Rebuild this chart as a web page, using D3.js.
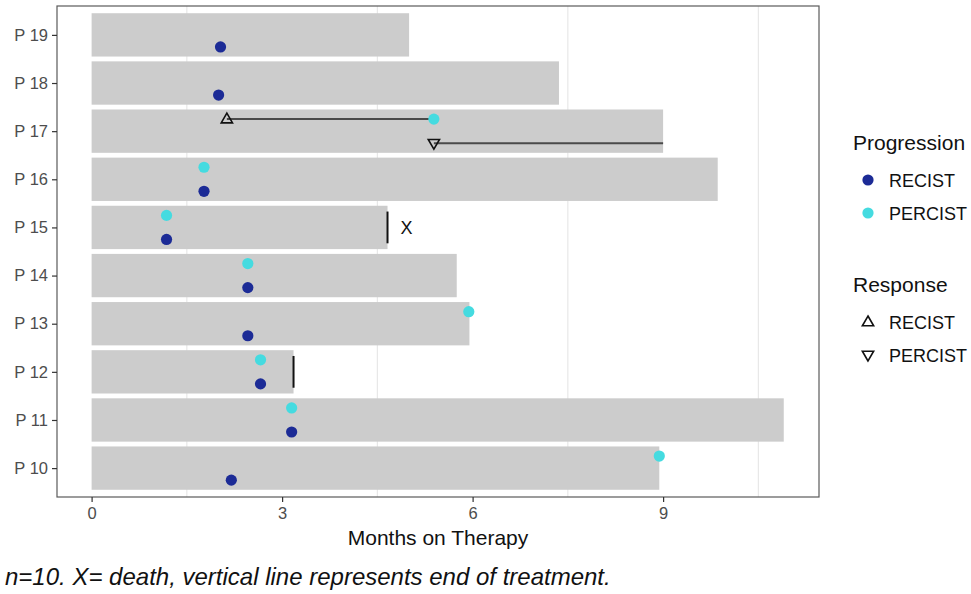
<!DOCTYPE html>
<html>
<head>
<meta charset="utf-8">
<script src="https://cdn.jsdelivr.net/npm/d3@7"></script>
<style>
  html, body { margin: 0; padding: 0; background: #ffffff; }
  svg { display: block; font-family: "Liberation Sans", Arial, Helvetica, sans-serif; }
</style>
</head>
<body>
<svg id="chart" width="971" height="594"></svg>
<script>
// ---------------- data ----------------
const patients = ["P 10", "P 11", "P 12", "P 13", "P 14", "P 15", "P 16", "P 17", "P 18", "P 19"];
const monthsOnTherapy = [8.94, 10.9, 3.18, 5.95, 5.75, 4.66, 9.86, 9.0, 7.36, 5.0];
const progressionRECIST = [2.2, 3.15, 2.66, 2.46, 2.46, 1.18, 1.77, null, 2.0, 2.03];
const progressionPERCIST = [8.94, 3.15, 2.66, 5.94, 2.46, 1.18, 1.77, 5.39, null, null];

const responsePatients = ["P 17", "P 17"];
const responseTypes = ["RECIST", "PERCIST"];
const responseStart = [2.13, 5.39];
const responseEnd = [5.39, 9.0];
const responseLane = ["upper", "lower"];

const endOfTreatmentPatients = ["P 12", "P 15"];
const deathPatients = ["P 15"];

const xTicks = [0, 3, 6, 9];
const xGrid = [1.5, 4.5, 7.5, 10.5];
const progressionTypes = ["RECIST", "PERCIST"];
const progressionColors = ["#1c2b96", "#45dbe0"];
const responseLegend = ["RECIST", "PERCIST"];

const xTitle = "Months on Therapy";
const caption = "n=10. X= death, vertical line represents end of treatment.";

// ---------------- layout ----------------
const panel = { left: 57, right: 819, top: 6, bottom: 497 };
const svg = d3.select("#chart");

const x = d3.scaleLinear().domain([-0.545, 11.455]).range([panel.left, panel.right]);
const y = d3.scalePoint().domain(patients.slice().reverse()).range([panel.top, panel.bottom]).padding(0.6);
const step = y.step();
const laneOffset = { upper: -0.25 * step, lower: 0.25 * step };
const color = d3.scaleOrdinal().domain(progressionTypes).range(progressionColors);

const treatment = patients.map((p, i) => ({ p, months: monthsOnTherapy[i] }));

// panel background
svg.append("rect").attr("x", panel.left).attr("y", panel.top)
  .attr("width", panel.right - panel.left).attr("height", panel.bottom - panel.top)
  .attr("fill", "#ffffff");

// grid lines
svg.append("g").selectAll("line").data(xGrid).join("line")
  .attr("x1", d => x(d)).attr("x2", d => x(d))
  .attr("y1", panel.top).attr("y2", panel.bottom)
  .attr("stroke", "#e6e6e6").attr("stroke-width", 1.1);

// bars
svg.append("g").selectAll("rect").data(treatment).join("rect")
  .attr("x", x(0))
  .attr("y", d => y(d.p) - 0.45 * step)
  .attr("width", d => x(d.months) - x(0))
  .attr("height", 0.9 * step)
  .attr("fill", "#cccccc");

// response lines
const responses = responsePatients.map((p, i) => ({
  p, type: responseTypes[i], start: responseStart[i], end: responseEnd[i], lane: responseLane[i]
}));
svg.append("g").selectAll("line").data(responses).join("line")
  .attr("x1", d => x(d.start)).attr("x2", d => x(d.end))
  .attr("y1", d => y(d.p) + laneOffset[d.lane]).attr("y2", d => y(d.p) + laneOffset[d.lane])
  .attr("stroke", "#4a4a4a").attr("stroke-width", 2);

// end of treatment lines
svg.append("g").selectAll("line").data(endOfTreatmentPatients).join("line")
  .attr("x1", p => x(monthsOnTherapy[patients.indexOf(p)]))
  .attr("x2", p => x(monthsOnTherapy[patients.indexOf(p)]))
  .attr("y1", p => y(p) - 0.33 * step).attr("y2", p => y(p) + 0.33 * step)
  .attr("stroke", "#111111").attr("stroke-width", 2);

// death markers
svg.append("g").selectAll("text").data(deathPatients).join("text")
  .attr("x", p => x(monthsOnTherapy[patients.indexOf(p)]) + 19)
  .attr("y", p => y(p) + 6.5)
  .attr("text-anchor", "middle")
  .attr("font-size", 18).attr("fill", "#111111")
  .text("X");

// progression points
const points = [];
patients.forEach((p, i) => {
  if (progressionRECIST[i] != null) points.push({ p, type: "RECIST", v: progressionRECIST[i], lane: "lower" });
  if (progressionPERCIST[i] != null) points.push({ p, type: "PERCIST", v: progressionPERCIST[i], lane: "upper" });
});
svg.append("g").selectAll("circle").data(points).join("circle")
  .attr("cx", d => x(d.v)).attr("cy", d => y(d.p) + laneOffset[d.lane])
  .attr("r", 5.6)
  .attr("fill", d => color(d.type));

// response markers (triangles)
const triUp = d3.symbol().type(d3.symbolTriangle).size(55);
svg.append("g").selectAll("path").data(responses).join("path")
  .attr("d", triUp())
  .attr("transform", d => `translate(${x(d.start)},${y(d.p) + laneOffset[d.lane] + (d.type === "RECIST" ? 0.5 : -0.5)}) rotate(${d.type === "RECIST" ? 0 : 180})`)
  .attr("fill", "none").attr("stroke", "#111111").attr("stroke-width", 1.6);

// panel border
svg.append("rect").attr("x", panel.left).attr("y", panel.top)
  .attr("width", panel.right - panel.left).attr("height", panel.bottom - panel.top)
  .attr("fill", "none").attr("stroke", "#5a5a5a").attr("stroke-width", 1.2);

// x axis
const xAxis = d3.axisBottom(x).tickValues(xTicks).tickSize(5).tickPadding(5).tickFormat(d3.format("d"));
const gx = svg.append("g").attr("transform", `translate(0,${panel.bottom})`).call(xAxis)
  .attr("font-size", 16.5).attr("font-family", "'Liberation Sans', Arial, sans-serif");
gx.select(".domain").remove();
gx.selectAll(".tick line").attr("stroke", "#333333").attr("stroke-width", 1.2);
gx.selectAll(".tick text").attr("fill", "#4d4d4d");

// y axis
const yAxis = d3.axisLeft(y).tickSize(5).tickPadding(4);
const gy = svg.append("g").attr("transform", `translate(${panel.left},0)`).call(yAxis)
  .attr("font-size", 16.5).attr("font-family", "'Liberation Sans', Arial, sans-serif");
gy.select(".domain").remove();
gy.selectAll(".tick line").attr("stroke", "#333333").attr("stroke-width", 1.2);
gy.selectAll(".tick text").attr("fill", "#4d4d4d");

// x title
svg.append("text").attr("x", (panel.left + panel.right) / 2).attr("y", 545)
  .attr("text-anchor", "middle").attr("font-size", 21).attr("fill", "#111111")
  .text(xTitle);

// caption
svg.append("text").attr("x", 5).attr("y", 585)
  .attr("font-size", 24).attr("font-style", "italic").attr("fill", "#111111")
  .text(caption);

// legend: progression
const lg = svg.append("g");
lg.append("text").attr("x", 853).attr("y", 150).attr("font-size", 21).attr("fill", "#111111").text("Progression");
lg.selectAll("circle.leg").data(progressionTypes).join("circle")
  .attr("class", "leg")
  .attr("cx", 868).attr("cy", (d, i) => 180 + i * 33)
  .attr("r", 5.6).attr("fill", d => color(d));
lg.selectAll("text.plab").data(progressionTypes).join("text")
  .attr("class", "plab")
  .attr("x", 889).attr("y", (d, i) => 180 + i * 33 + 6.5)
  .attr("font-size", 18).attr("fill", "#111111").text(d => d);

// legend: response
lg.append("text").attr("x", 853).attr("y", 292).attr("font-size", 21).attr("fill", "#111111").text("Response");
lg.selectAll("path.rleg").data(responseLegend).join("path")
  .attr("class", "rleg")
  .attr("d", triUp())
  .attr("transform", (d, i) => `translate(868,${322 + i * 33 + (i === 0 ? 0.5 : -0.5)}) rotate(${i === 0 ? 0 : 180})`)
  .attr("fill", "none").attr("stroke", "#111111").attr("stroke-width", 1.6);
lg.selectAll("text.rlab").data(responseLegend).join("text")
  .attr("class", "rlab")
  .attr("x", 889).attr("y", (d, i) => 322 + i * 33 + 6.5)
  .attr("font-size", 18).attr("fill", "#111111").text(d => d);
</script>
</body>
</html>
